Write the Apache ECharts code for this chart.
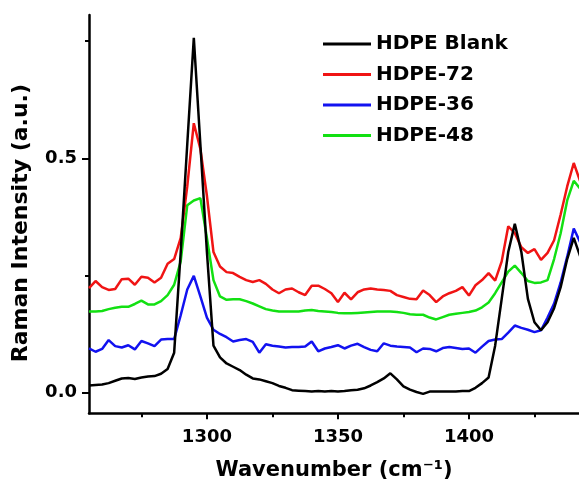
<!DOCTYPE html>
<html>
<head>
<meta charset="utf-8">
<script src="https://cdn.jsdelivr.net/npm/echarts@6/dist/echarts.min.js"></script>
<style>
html,body{margin:0;padding:0;background:#fff;}
#chart{width:579px;height:495px;}
</style>
</head>
<body>
<div id="chart"></div>
<script>
const wavenumbers = [1255,1257.5,1260,1262.5,1265,1267.5,1270,1272.5,1275,1277.5,1280,1282.5,1285,1287.5,1290,1292.5,1295,1297.5,1300,1302.5,1305,1307.5,1310,1312.5,1315,1317.5,1320,1322.5,1325,1327.5,1330,1332.5,1335,1337.5,1340,1342.5,1345,1347.5,1350,1352.5,1355,1357.5,1360,1362.5,1365,1367.5,1370,1372.5,1375,1377.5,1380,1382.5,1385,1387.5,1390,1392.5,1395,1397.5,1400,1402.5,1405,1407.5,1410,1412.5,1415,1417.5,1420,1422.5,1425,1427.5,1430,1432.5,1435,1437.5,1440,1442.5];

const hdpeBlank = [0.015,0.016,0.017,0.020,0.025,0.030,0.031,0.029,0.032,0.034,0.035,0.040,0.050,0.085,0.300,0.530,0.757,0.530,0.300,0.100,0.075,0.062,0.055,0.048,0.038,0.030,0.028,0.024,0.020,0.014,0.010,0.005,0.004,0.003,0.002,0.003,0.002,0.003,0.002,0.003,0.005,0.006,0.009,0.015,0.022,0.030,0.041,0.028,0.013,0.006,0.001,-0.003,0.002,0.002,0.002,0.002,0.002,0.003,0.003,0.010,0.020,0.032,0.100,0.200,0.300,0.360,0.300,0.200,0.150,0.133,0.150,0.180,0.225,0.285,0.330,0.290];

const hdpe72 = [0.223,0.238,0.225,0.219,0.221,0.242,0.243,0.230,0.247,0.245,0.235,0.245,0.275,0.285,0.330,0.440,0.575,0.520,0.420,0.300,0.269,0.257,0.255,0.247,0.240,0.236,0.240,0.232,0.220,0.212,0.220,0.222,0.214,0.208,0.228,0.228,0.221,0.212,0.193,0.213,0.199,0.214,0.220,0.222,0.220,0.219,0.217,0.208,0.204,0.200,0.199,0.218,0.208,0.193,0.205,0.212,0.217,0.225,0.207,0.229,0.240,0.255,0.239,0.280,0.355,0.340,0.310,0.298,0.306,0.283,0.298,0.325,0.380,0.440,0.490,0.450];

const hdpe36 = [0.094,0.087,0.093,0.112,0.099,0.096,0.101,0.092,0.110,0.105,0.099,0.113,0.114,0.114,0.165,0.220,0.249,0.205,0.160,0.134,0.125,0.118,0.109,0.112,0.114,0.108,0.085,0.103,0.100,0.098,0.096,0.097,0.097,0.098,0.109,0.088,0.094,0.097,0.101,0.094,0.100,0.104,0.097,0.091,0.088,0.105,0.100,0.098,0.097,0.096,0.086,0.094,0.093,0.088,0.095,0.097,0.095,0.093,0.094,0.085,0.098,0.110,0.113,0.114,0.128,0.143,0.138,0.134,0.129,0.133,0.160,0.190,0.235,0.290,0.350,0.320];

const hdpe48 = [0.173,0.173,0.174,0.178,0.181,0.183,0.183,0.189,0.196,0.188,0.188,0.195,0.208,0.230,0.280,0.400,0.410,0.415,0.330,0.240,0.205,0.198,0.199,0.199,0.195,0.190,0.184,0.178,0.175,0.173,0.173,0.173,0.173,0.175,0.176,0.174,0.173,0.172,0.170,0.169,0.169,0.170,0.171,0.172,0.173,0.173,0.173,0.172,0.170,0.167,0.166,0.166,0.160,0.156,0.161,0.166,0.168,0.170,0.172,0.175,0.182,0.192,0.212,0.235,0.258,0.271,0.255,0.238,0.234,0.235,0.240,0.285,0.340,0.410,0.452,0.435];

const seriesNames = ['HDPE Blank','HDPE-72','HDPE-36','HDPE-48'];
const xMajorTicks = [1300,1350,1400];
const xMinorTicks = [1275,1325,1375,1425];
const yMajorTicks = [0,0.5];
const yMinorTicks = [0.25,0.75];

const FONT = 'DejaVu Sans';
function pairs(vals){ return wavenumbers.map((w,i)=>[w, vals[i]]); }

const chart = echarts.init(document.getElementById('chart'), null, {renderer:'canvas'});

const axisLineStyle = {color:'#000', width:2.5};
const XMIN = 1255, XMAX = 1442, YMIN = -0.0444, YMAX = 0.806;

function mkSeries(name, data, color, z){
  return {
    name: name, type:'line', data: pairs(data), xAxisIndex:0, yAxisIndex:0,
    symbol:'none', showSymbol:false, z: z,
    lineStyle:{color: color, width:2.5}, itemStyle:{color: color},
    emphasis:{disabled:true}
  };
}

chart.setOption({
  animation:false,
  backgroundColor:'#fff',
  grid:{left:89, top:15, width:490, height:398.3, containLabel:false},
  legend:{
    data: seriesNames,
    orient:'vertical',
    left:318, top:29,
    itemWidth:48, itemHeight:14, itemGap:10.5,
    icon: 'path://M0,5.5 L48,5.5 L48,8.5 L0,8.5 Z',
    textStyle:{fontFamily:FONT, fontWeight:'bold', fontSize:20, color:'#000', lineHeight:20},
    selectedMode:false
  },
  xAxis:[{
    type:'value', min:XMIN, max:XMAX, position:'bottom',
    axisLine:{show:true, onZero:false, lineStyle:axisLineStyle},
    axisTick:{show:true, inside:false, length:6, lineStyle:{color:'#000', width:2}, customValues: xMajorTicks},
    axisLabel:{show:true, margin:15, customValues: xMajorTicks, formatter:(v)=>String(Math.round(v)), fontFamily:FONT, fontWeight:'bold', fontSize:18, color:'#000'},
    splitLine:{show:false},
    name:'Wavenumber (cm\u207B\u00B9)', nameLocation:'middle', nameGap:47,
    nameTextStyle:{fontFamily:FONT, fontWeight:'bold', fontSize:21, color:'#000'}
  },{
    type:'value', min:XMIN, max:XMAX, position:'bottom',
    axisLine:{show:false, onZero:false},
    axisTick:{show:true, inside:false, length:4, lineStyle:{color:'#000', width:2}, customValues: xMinorTicks},
    axisLabel:{show:false},
    splitLine:{show:false}
  }],
  yAxis:[{
    type:'value', min:YMIN, max:YMAX, position:'left',
    axisLine:{show:true, onZero:false, lineStyle:axisLineStyle},
    axisTick:{show:true, inside:false, length:7, lineStyle:{color:'#000', width:2}, customValues: yMajorTicks},
    axisLabel:{show:true, margin:12, customValues: yMajorTicks, formatter:(v)=>Number(v).toFixed(1), fontFamily:FONT, fontWeight:'bold', fontSize:18, color:'#000'},
    splitLine:{show:false},
    name:'Raman Intensity (a.u.)', nameLocation:'middle', nameGap:57, nameRotate:90,
    nameTextStyle:{fontFamily:FONT, fontWeight:'bold', fontSize:22, color:'#000', padding:[0,18,0,0]}
  },{
    type:'value', min:YMIN, max:YMAX, position:'left',
    axisLine:{show:false, onZero:false},
    axisTick:{show:true, inside:false, length:4, lineStyle:{color:'#000', width:2}, customValues: yMinorTicks},
    axisLabel:{show:false},
    splitLine:{show:false}
  }],
  series:[
    mkSeries(seriesNames[3], hdpe48, '#12e012', 2),
    mkSeries(seriesNames[2], hdpe36, '#1212f0', 3),
    mkSeries(seriesNames[1], hdpe72, '#f01414', 4),
    mkSeries(seriesNames[0], hdpeBlank, '#000000', 5)
  ]
});
</script>
</body>
</html>
